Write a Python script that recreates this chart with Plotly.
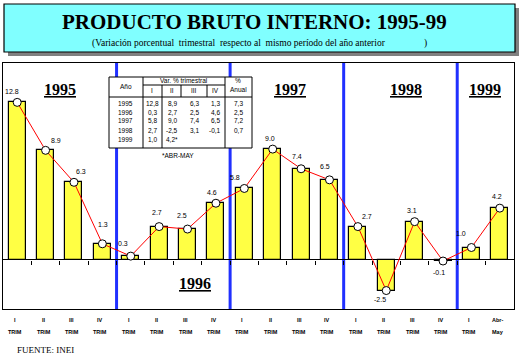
import plotly.graph_objects as go

# ---------------- data ----------------
quarter_values = [12.8, 8.9, 6.3, 1.3,
                  0.3, 2.7, 2.5, 4.6,
                  5.8, 9.0, 7.4, 6.5,
                  2.7, -2.5, 3.1, -0.1,
                  1.0, 4.2]
years = ["1995", "1996", "1997", "1998", "1999"]
annual_values = [7.3, 2.5, 7.2, 0.7]
quarter_labels = ["I", "II", "III", "IV", "I", "II", "III", "IV",
                  "I", "II", "III", "IV", "I", "II", "III", "IV", "I", "Abr-"]
quarter_labels2 = ["TRIM"] * 17 + ["May"]
title_text = "PRODUCTO BRUTO INTERNO: 1995-99"
subtitle_text = "(Variación porcentual  trimestral  respecto al  mismo período del año anterior"
source_text = "FUENTE: INEI"

# per-label pixel nudges (style only)
label_dx = [-5, 10, 7, 1, -8, -2, -6, -4, -9, -3, -4, -4, 9, -6, -3, -4, -10, -3]
label_dy = [11, 10, 11, 19, 13, 14, 14, 11, 11, 11, 12, 13, 10, -9, 11, -11, 14, 12]

n = len(quarter_values)
xs = list(range(n))

# pixel geometry of plot area
W_, H_ = 522, 363
L, R, T, B = 3, 514, 63, 309
PW, PH = R - L, B - T


def px(x):
    return (x - L) / PW


def py(y):
    return (B - y) / PH


SERIF = "Liberation Serif"
SANS = "Liberation Sans"

fig = go.Figure()

fig.add_trace(go.Bar(
    x=xs, y=quarter_values, width=0.6,
    marker=dict(color="#FFFF44", line=dict(color="black", width=1.2)),
    hoverinfo="skip", showlegend=False,
))
fig.add_trace(go.Scatter(
    x=xs, y=quarter_values, mode="lines+markers",
    line=dict(color="#FF0000", width=1),
    marker=dict(color="white", size=8, line=dict(color="black", width=1)),
    hoverinfo="skip", showlegend=False,
))
# dummy trace for tick axis on zero line
fig.add_trace(go.Scatter(x=[0], y=[0], xaxis="x2", mode="markers",
                         marker=dict(opacity=0), hoverinfo="skip", showlegend=False))

shapes = []
annotations = []


def ann(x, y, text, font, xref="paper", yref="paper", xanchor="center", **kw):
    annotations.append(dict(x=x, y=y, xref=xref, yref=yref, text=text,
                            showarrow=False, xanchor=xanchor, yanchor="middle",
                            font=font, **kw))


# year separators
for k in range(1, len(years)):
    shapes.append(dict(type="line", xref="x", yref="paper",
                       x0=4 * k - 0.5, x1=4 * k - 0.5, y0=0, y1=1,
                       line=dict(color="#2030FF", width=3), layer="below"))

# value labels
for i, v in enumerate(quarter_values):
    ann(i, v, f"{v:.1f}", dict(family=SANS, size=7, color="black"),
        xref="x", yref="y", xshift=label_dx[i], yshift=label_dy[i])

# bottom category labels
for i in range(n):
    ann(i, py(320), f"<b>{quarter_labels[i]}</b>",
        dict(family=SANS, size=5.5, color="black"), xref="x", xshift=-2)
    ann(i, py(332), f"<b>{quarter_labels2[i]}</b>",
        dict(family=SANS, size=5.5, color="black"), xref="x", xshift=-2)

# year labels
year_pos = [(60, 89), (195, 283), (290, 89), (406, 89), (485, 89)]
for yr, (xx, yy) in zip(years, year_pos):
    ann(px(xx), py(yy), f"<b><u>{yr}</u></b>", dict(family=SERIF, size=16, color="black"))

# title box with shadow
shapes.append(dict(type="rect", xref="paper", yref="paper",
                   x0=px(8), x1=px(519), y0=py(8), y1=py(56),
                   fillcolor="#808080", line=dict(width=0)))
shapes.append(dict(type="rect", xref="paper", yref="paper",
                   x0=px(4), x1=px(515), y0=py(4), y1=py(52),
                   fillcolor="#80FFFF", line=dict(color="black", width=1.2)))
ann(px(254), py(22), f"<b>{title_text}</b>", dict(family=SERIF, size=21, color="black"))
ann(px(90), py(43), subtitle_text, dict(family=SERIF, size=9.5, color="black"),
    xanchor="left")
ann(px(425), py(43), ")", dict(family=SERIF, size=9.5, color="black"))

# source
ann(px(15), py(350), source_text, dict(family=SERIF, size=9, color="black"),
    xanchor="left")

# ---------------- inset table ----------------
TL, TR, TT, TB = 109, 252, 77, 148


def hline(x0, x1, y):
    shapes.append(dict(type="line", xref="paper", yref="paper",
                       x0=px(x0), x1=px(x1), y0=py(y), y1=py(y),
                       line=dict(color="black", width=1)))


def vline(x, y0, y1):
    shapes.append(dict(type="line", xref="paper", yref="paper",
                       x0=px(x), x1=px(x), y0=py(y0), y1=py(y1),
                       line=dict(color="black", width=1)))


shapes.append(dict(type="rect", xref="paper", yref="paper",
                   x0=px(TL), x1=px(TR), y0=py(TT), y1=py(TB),
                   fillcolor="white", line=dict(color="black", width=1)))
vline(143, TT, TB)
vline(225, TT, TB)
hline(143, 225, 85)
hline(TL, TR, 97)
for cx in (162, 181, 207):
    vline(cx, 85, 97)
vline(162, 97, TB)


def ttext(x, y, s, size=6.5):
    ann(px(x), py(y), s, dict(family=SANS, size=size, color="black"))


ttext(126, 86, "Año")
ttext(184, 80, "Var. % trimestral")
col_x = [152, 172, 194, 215]
for cx, lab in zip(col_x, ["I", "II", "III", "IV"]):
    ttext(cx, 91, lab)
ttext(238, 80, "%")
ttext(238, 89, "Anual")

row_y = [103, 112, 121, 130, 139]
for r, yr in enumerate(years):
    ttext(125, row_y[r], yr)
    for c in range(4):
        idx = r * 4 + c
        if idx < n:
            s = f"{quarter_values[idx]:.1f}".replace(".", ",")
            if r == len(years) - 1 and c == 1:
                s += "*"
            ttext(col_x[c], row_y[r], s)
    if r < len(annual_values):
        ttext(238, row_y[r], f"{annual_values[r]:.1f}".replace(".", ","))
ttext(178, 155, "*ABR-MAY")

fig.update_layout(
    width=W_, height=H_,
    margin=dict(l=L, r=W_ - R, t=T, b=H_ - B),
    paper_bgcolor="white", plot_bgcolor="white",
    showlegend=False,
    bargap=0,
    xaxis=dict(range=[-0.5, n - 0.5], showticklabels=False, ticks="",
               showgrid=False, zeroline=False,
               showline=True, mirror=True, linecolor="black", linewidth=1.2),
    yaxis=dict(range=[-4, 16], showticklabels=False, ticks="",
               showgrid=False, zeroline=True, zerolinecolor="black",
               zerolinewidth=1.2,
               showline=True, mirror=True, linecolor="black", linewidth=1.2),
    xaxis2=dict(overlaying="x", anchor="free", position=0.2, side="bottom",
                range=[-0.5, n - 0.5], tickvals=[i + 0.5 for i in range(n - 1)],
                ticks="outside", ticklen=4, tickcolor="black", tickwidth=1,
                showticklabels=False, showgrid=False, zeroline=False,
                showline=False),
    shapes=shapes,
    annotations=annotations,
)

fig.write_html("out.html",
               config={"displayModeBar": False},
               post_script="document.body.style.margin='0';"
                           "document.body.style.overflow='hidden';")
